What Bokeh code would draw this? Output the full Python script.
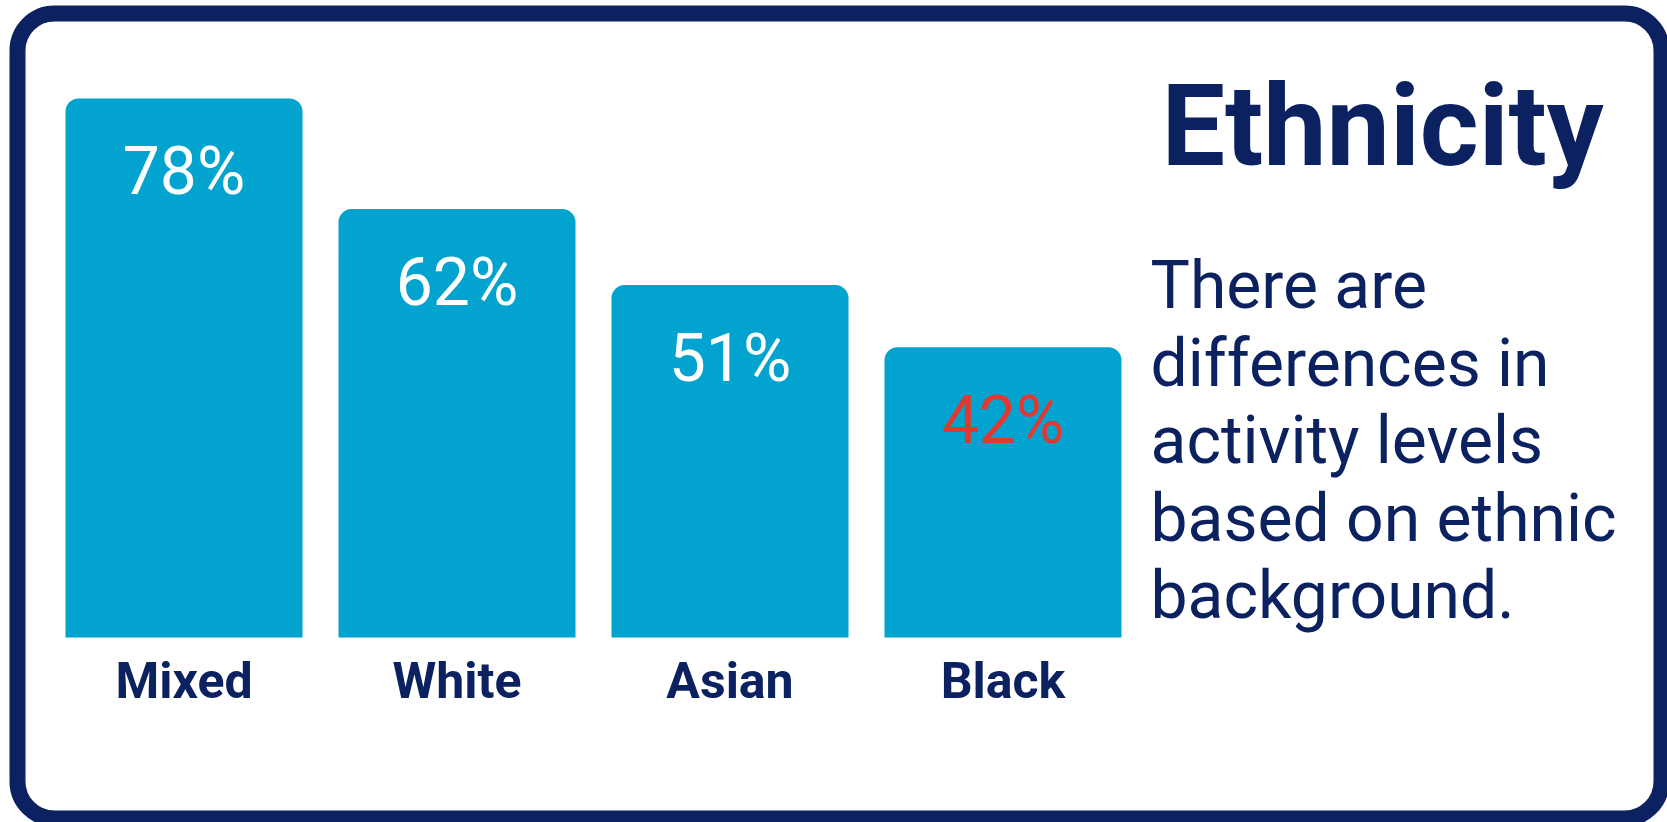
from bokeh.plotting import figure
from bokeh.models import Range1d, BoxAnnotation, ColumnDataSource, Label
from bokeh.core.properties import value
from bokeh.embed import file_html
from bokeh.resources import INLINE

# ---- data ----
categories = ["Mixed", "White", "Asian", "Black"]
percentages = [78, 62, 51, 42]
pct_labels = ["78%", "62%", "51%", "42%"]
title_text = "Ethnicity"
body_lines = ["There are", "differences in", "activity levels", "based on ethnic", "background."]

# ---- styles ----
NAVY = "#0b2160"
BAR = "#03a3cf"
RED = "#e2382f"
label_colors = ["white", "white", "white", RED]
FONT = "Roboto"

# ---- layout ----
W, H = 1667, 822
BASE_PX = 637.0      # pixel row of 0 %
PX_PER_PCT = 6.91    # pixels per percentage point
FIRST_PX = 183.5     # pixel column of first bar centre
PITCH_PX = 273.0     # pixels between bar centres
BAR_W_PX = 237.0


def px2x(px):
    return (px - FIRST_PX) / PITCH_PX


def py2y(py):
    return (BASE_PX - py) / PX_PER_PCT


p = figure(width=W, height=H,
           x_range=Range1d(px2x(0), px2x(W)),
           y_range=Range1d(py2y(H), py2y(0)),
           x_axis_location=None, y_axis_location=None,
           output_backend="svg", toolbar_location=None, min_border=0)
p.grid.visible = False
p.outline_line_color = None
p.background_fill_color = "white"
p.border_fill_color = "white"

source = ColumnDataSource(dict(x=list(range(len(categories))), top=percentages,
                               cat=categories, lab=pct_labels, col=label_colors))

p.vbar(x="x", top="top", bottom=0, width=BAR_W_PX / PITCH_PX, source=source,
       fill_color=BAR, line_color=None, border_radius=(13, 13, 0, 0))

p.text(x="x", y="top", text="lab", source=source, text_color="col",
       text_font=value(FONT), text_font_size="66px", text_align="center",
       text_baseline="alphabetic", y_offset=73)

p.text(x="x", y=0, text="cat", source=source, text_color=NAVY,
       text_font=value(FONT), text_font_style="bold", text_font_size="50px",
       text_align="center", text_baseline="alphabetic", y_offset=43)

# frame border
border = BoxAnnotation(left=px2x(17), right=px2x(1661), top=py2y(13), bottom=py2y(818),
                       fill_alpha=0, line_color=NAVY, line_alpha=1.0, line_width=16,
                       border_radius=37)
p.add_layout(border)

# title
p.add_layout(Label(x=px2x(1161), y=py2y(126), text=title_text, text_color=NAVY,
                   text_font=FONT, text_font_style="bold", text_font_size="113px",
                   text_align="left", text_baseline="alphabetic"))

# body text
p.text(x=[px2x(1150)] * len(body_lines),
       y=[py2y(285 + 77.5 * i) for i in range(len(body_lines))],
       text=body_lines, text_color=NAVY, text_font=value(FONT),
       text_font_size="66px", text_align="left", text_baseline="alphabetic")

open("out.html", "w").write(file_html(p, INLINE))
